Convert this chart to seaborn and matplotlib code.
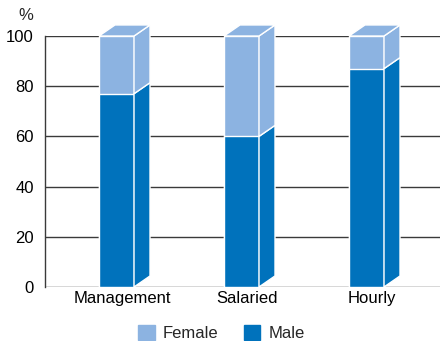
import matplotlib
matplotlib.use("Agg")
import matplotlib.pyplot as plt
import matplotlib.transforms as mtransforms
from matplotlib.patches import Polygon, Patch
import pandas as pd
import seaborn as sns

# ── data ────────────────────────────────────────────────────────────────────
categories = ["Management", "Salaried", "Hourly"]
male = [77, 60, 87]
female = [23, 40, 13]
yticks = [0, 20, 40, 60, 80, 100]

MALE_C = "#0072BC"
FEMALE_C = "#8CB3E1"
GRID_C = "#3A3A3A"

sns.set_theme(style="white")
plt.rcParams["font.family"] = ["Liberation Sans", "DejaVu Sans"]

df = pd.DataFrame({"cat": categories, "male": male,
                   "total": [m + f for m, f in zip(male, female)]})

fig = plt.figure(figsize=(4.4, 3.41), dpi=100)
ax = fig.add_axes([0.1023, 0.1584, 0.8977, 0.736])

for y in yticks:
    ax.axhline(y, color=GRID_C, lw=1.0, zorder=0)

sns.barplot(data=df, x="cat", y="total", color=FEMALE_C, width=0.28,
            saturation=1, edgecolor="white", linewidth=1, ax=ax, zorder=2)
sns.barplot(data=df, x="cat", y="male", color=MALE_C, width=0.28,
            saturation=1, edgecolor="white", linewidth=1, ax=ax, zorder=3)

# fake 3d depth: side faces for both segments, top face only on the stack
dx, dy = 0.128, 4.4
n = len(categories)
female_bars = ax.patches[:n]
male_bars = ax.patches[n:2 * n]
for fb, mb in zip(female_bars, male_bars):
    x0 = fb.get_x()
    x1 = x0 + fb.get_width()
    ym = mb.get_height()
    yt = fb.get_height()
    for lo, hi, col in [(0, ym, MALE_C), (ym, yt, FEMALE_C)]:
        ax.add_patch(Polygon([(x1, lo), (x1 + dx, lo + dy), (x1 + dx, hi + dy), (x1, hi)],
                             closed=True, fc=col, ec="white", lw=1, zorder=4,
                             clip_on=False))
    ax.add_patch(Polygon([(x0, yt), (x1, yt), (x1 + dx, yt + dy), (x0 + dx, yt + dy)],
                         closed=True, fc=FEMALE_C, ec="white", lw=1, zorder=4,
                         clip_on=False))

ax.set_xlim(-0.572, 2.588)
ax.set_ylim(0, 100)
ax.set_yticks(yticks)
ax.set_xlabel("")
ax.set_ylabel("")
ax.tick_params(axis="both", length=0, labelsize=12, colors="black")
ax.tick_params(axis="y", pad=8)
ax.tick_params(axis="x", pad=3)
for s in ["top", "right", "bottom"]:
    ax.spines[s].set_visible(False)
ax.spines["left"].set_color(GRID_C)
ax.spines["left"].set_linewidth(1.0)

# labels sit centred on the whole 3d block, a few px right of the front face
shift = mtransforms.ScaledTranslation(4 / 72, 0, fig.dpi_scale_trans)
for lbl in ax.get_xticklabels():
    lbl.set_transform(lbl.get_transform() + shift)

fig.text(0.058, 0.955, "%", fontsize=12, ha="center", va="center")

handles = [Patch(color=FEMALE_C, label="Female"), Patch(color=MALE_C, label="Male")]
fig.legend(handles=handles, loc="lower center", bbox_to_anchor=(0.503, -0.045),
           ncol=2, frameon=False, fontsize=12, handlelength=1.0, handleheight=1.0,
           columnspacing=1.5, handletextpad=0.5)

fig.savefig("out.png", dpi=100)
